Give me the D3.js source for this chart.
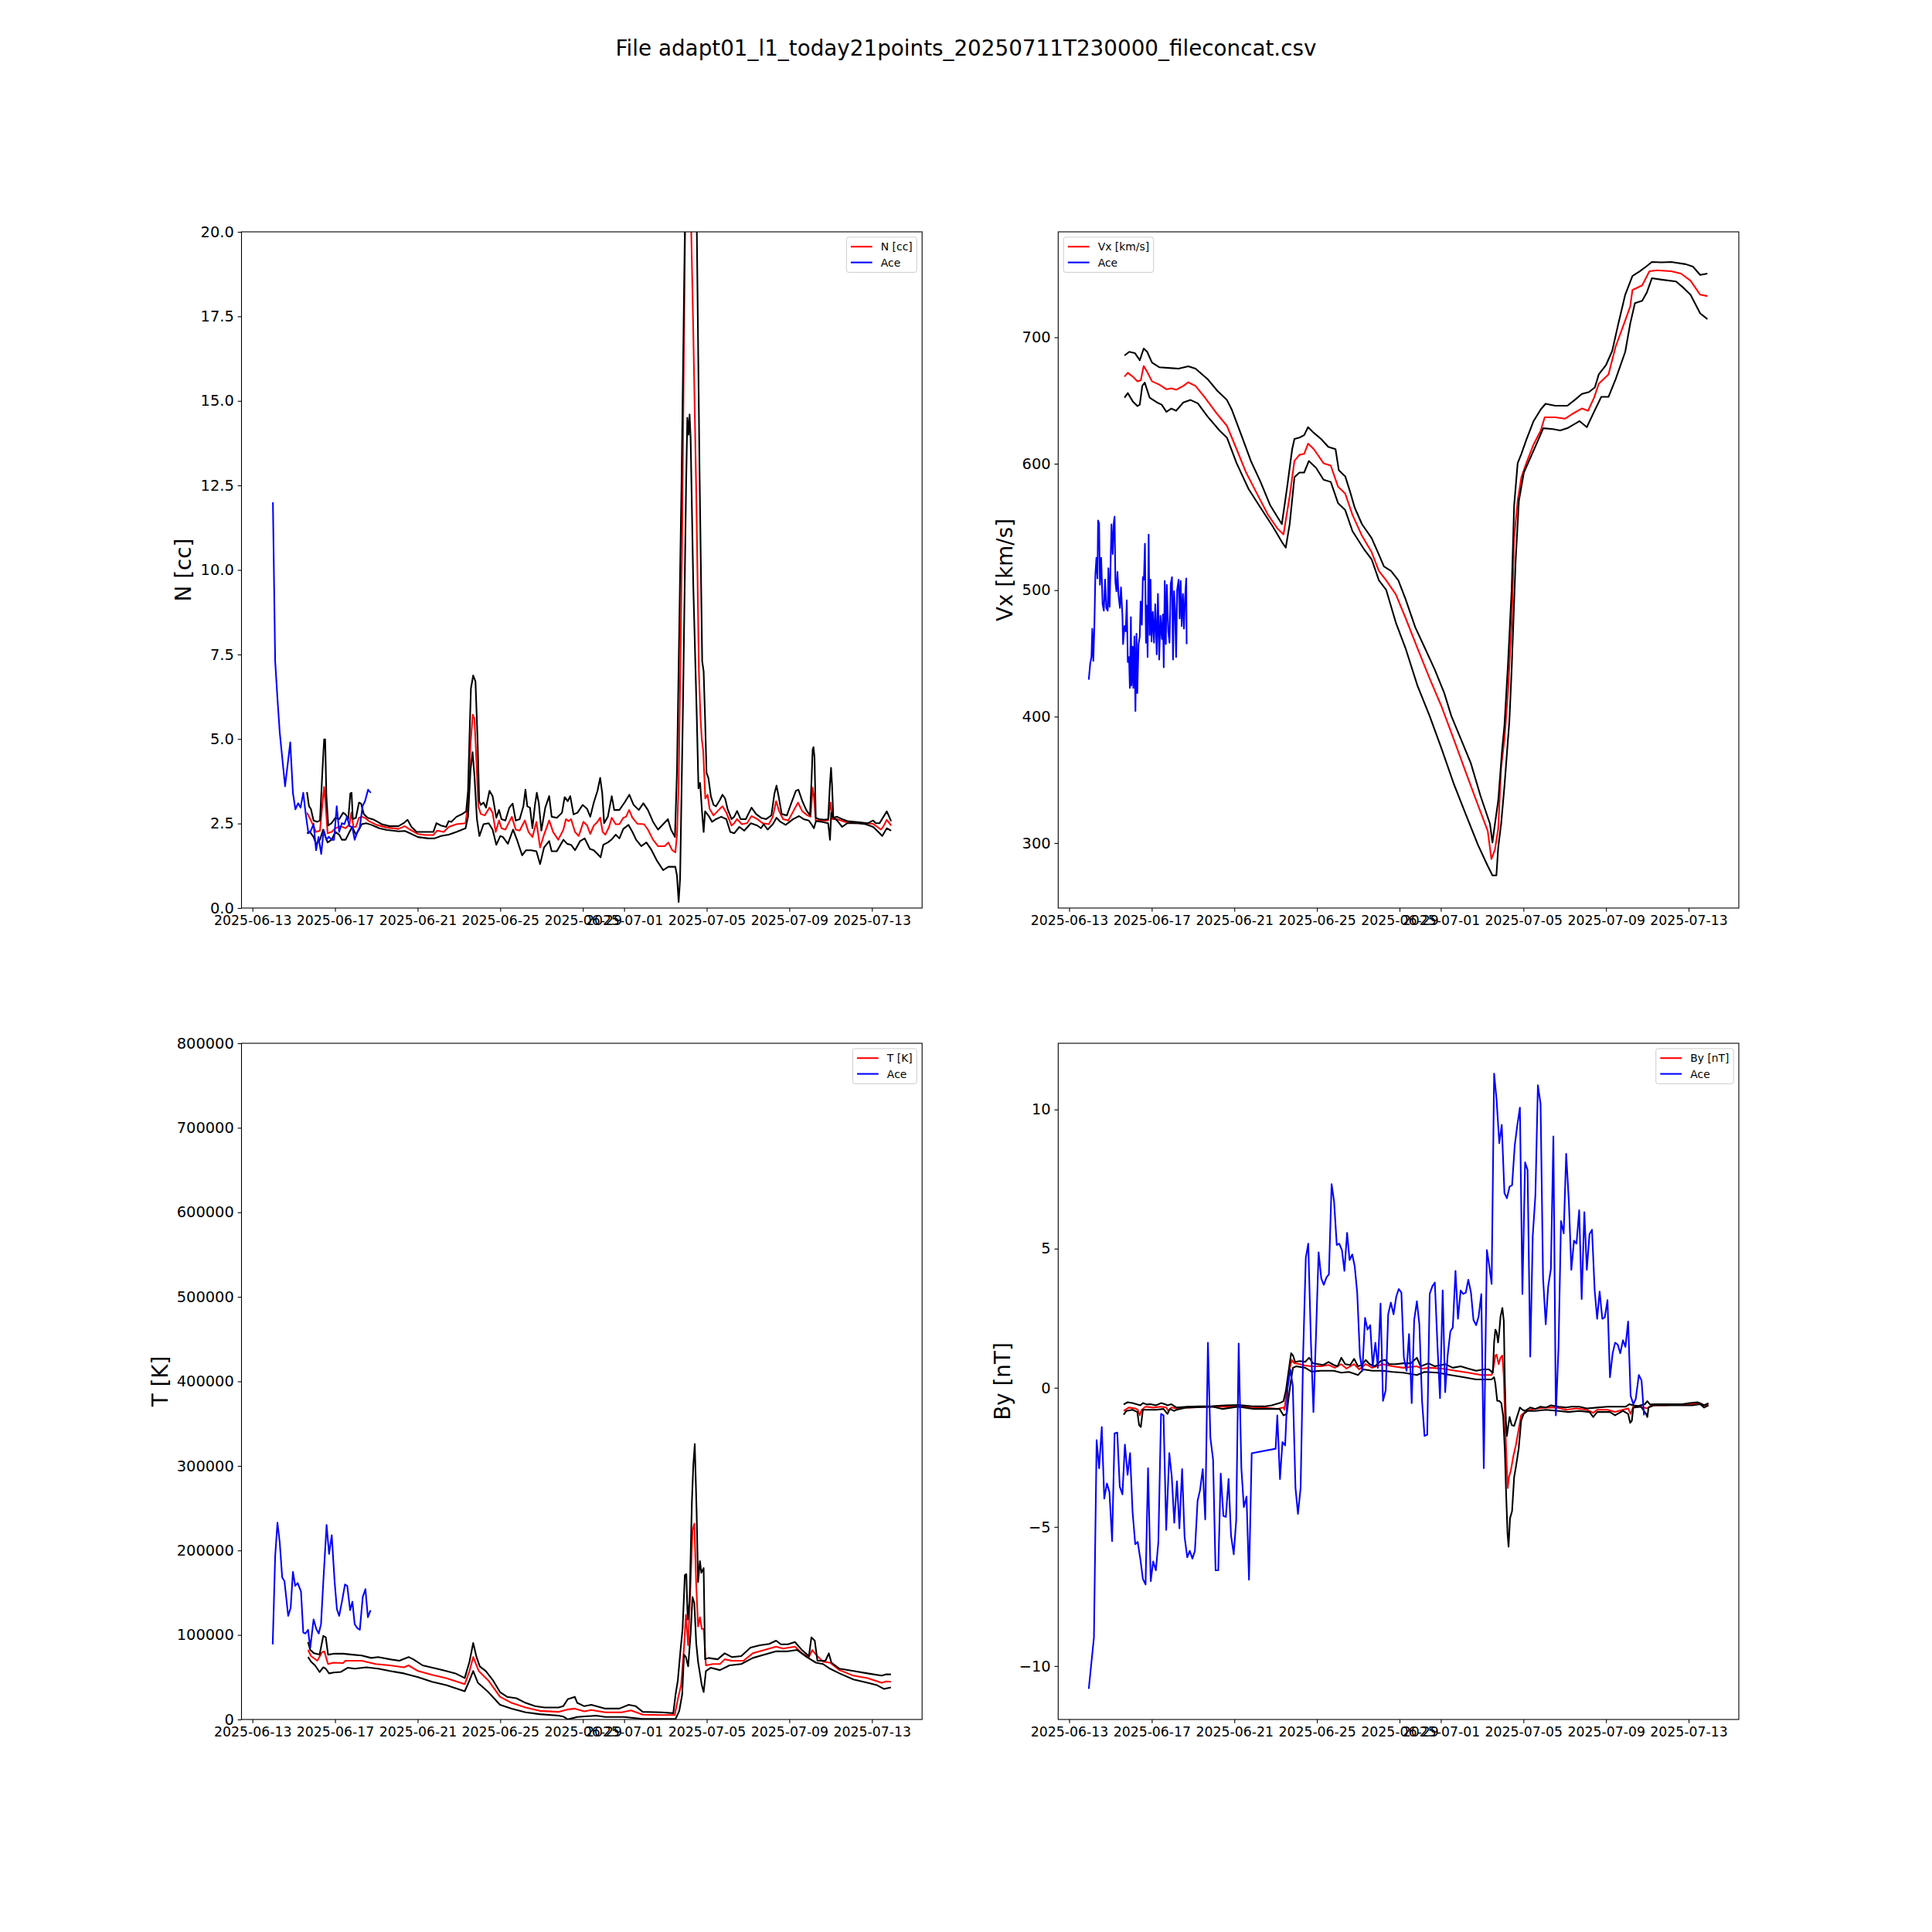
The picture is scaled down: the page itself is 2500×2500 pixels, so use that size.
<!DOCTYPE html>
<html>
<head>
  <meta charset="utf-8">
  <title>adapt01 l1 today21points</title>
  <script src="https://d3js.org/d3.v7.min.js"></script>
  <style>
    body { margin: 0; background: #fff; }
    text { font-family: "DejaVu Sans", sans-serif; fill: #000; }
    .frame { fill: none; stroke: #000; stroke-width: 1.1px; }
    .axis line { stroke: #000; stroke-width: 1.1px; }
    .series { fill: none; stroke-width: 2.08px; stroke-linejoin: round; }
  </style>
</head>
<body>
  <div id="chart"></div>
  <script>
    // ---- chart text and ticks ----
    const titleText = "File adapt01_l1_today21points_20250711T230000_fileconcat.csv";
    const xTickDates = ["2025-06-13", "2025-06-17", "2025-06-21", "2025-06-25", "2025-06-29",
                        "2025-07-01", "2025-07-05", "2025-07-09", "2025-07-13"];
    const nTicks = [0, 2.5, 5, 7.5, 10, 12.5, 15, 17.5, 20];
    const vxTicks = [300, 400, 500, 600, 700];
    const tTicks = [0, 100000, 200000, 300000, 400000, 500000, 600000, 700000, 800000];
    const byTicks = [-10, -5, 0, 5, 10];

    // ---- series: [days after 2025-06-13 00:00 UTC, value] ----
    const nAce = [[0.99,12.0],[1.10,7.3],[1.21,6.2],[1.32,5.2],[1.49,4.15],[1.58,3.6],[1.83,4.9],[1.96,3.4],
      [2.08,2.92],[2.21,3.10],[2.33,2.97],[2.46,3.41],[2.58,2.78],[2.71,2.21],[2.83,2.29],[2.96,2.49],[3.08,1.71],
      [3.20,2.10],[3.33,1.60],[3.45,2.31],[3.58,2.02],[3.70,2.11],[3.83,2.02],[3.95,2.02],[4.08,3.01],[4.20,2.25],
      [4.33,2.51],[4.45,2.48],[4.58,2.70],[4.70,2.42],[4.83,2.40],[4.95,2.02],[5.08,2.25],[5.20,2.40],[5.33,3.01],
      [5.45,3.16],[5.60,3.50],[5.73,3.41]];
    const nMid = [[2.64,2.82],[2.77,2.67],[2.89,2.51],[3.08,2.25],[3.27,2.29],[3.39,3.09],[3.47,3.58],[3.54,3.09],
      [3.64,2.21],[3.83,2.25],[4.02,2.36],[4.27,2.42],[4.51,2.36],[4.70,2.48],[4.79,2.82],[4.89,2.40],[5.01,2.40],
      [5.16,2.67],[5.29,2.70],[5.45,2.67],[5.64,2.57],[6.01,2.46],[6.51,2.38],[7.07,2.34],[7.38,2.42],[7.63,2.32],
      [8.01,2.19],[8.38,2.16],[8.76,2.16],[8.94,2.29],[9.26,2.25],[9.51,2.40],[9.88,2.48],[10.32,2.51],[10.44,3.09],
      [10.56,4.84],[10.67,5.72],[10.75,5.6],[10.81,4.84],[10.94,3.01],[11.06,2.78],[11.25,2.74],[11.48,2.97],
      [11.63,2.82],[11.78,2.25],[11.94,2.59],[12.06,2.36],[12.25,2.32],[12.56,2.70],[12.75,2.32],[12.94,2.29],
      [13.19,2.59],[13.37,2.25],[13.56,2.10],[13.75,2.55],[13.93,1.79],[14.12,2.17],[14.37,2.59],[14.56,2.25],
      [14.81,2.02],[15.06,2.32],[15.18,2.63],[15.31,2.57],[15.43,2.63],[15.62,2.25],[15.80,2.13],[16.03,2.55],
      [16.21,2.44],[16.36,2.19],[16.53,2.44],[16.71,2.55],[16.84,2.67],[16.96,2.25],[17.09,2.17],[17.27,2.40],
      [17.40,2.67],[17.59,2.48],[17.77,2.48],[17.96,2.67],[18.09,2.70],[18.24,2.90],[18.40,2.67],[18.65,2.49],
      [18.96,2.48],[19.15,2.32],[19.40,2.02],[19.64,1.83],[19.96,1.83],[20.14,1.94],[20.33,1.71],[20.48,1.65],
      [20.56,2.17],[20.64,3.70],[20.80,10.5],[20.95,20],[21.10,23],[21.25,20],[21.35,17],[21.50,12],[21.62,7],
      [21.70,5.6],[21.76,5.0],[21.83,4.65],[21.93,3.24],[22.04,3.35],[22.14,2.93],[22.33,2.74],[22.58,2.90],
      [22.76,3.01],[22.95,2.82],[23.20,2.44],[23.33,2.51],[23.47,2.63],[23.70,2.48],[23.95,2.51],[24.17,2.72],
      [24.45,2.63],[24.70,2.51],[25.01,2.48],[25.20,2.70],[25.36,3.16],[25.51,2.86],[25.70,2.63],[25.95,2.59],
      [26.19,2.86],[26.42,3.12],[26.63,2.86],[26.88,2.74],[27.03,2.70],[27.13,3.56],[27.19,3.31],[27.28,2.59],
      [27.57,2.59],[27.88,2.59],[28.00,3.12],[28.09,2.63],[28.31,2.63],[28.69,2.55],[29.19,2.51],[29.69,2.51],
      [30.06,2.49],[30.44,2.32],[30.56,2.42],[30.72,2.61],[30.93,2.44]];
    const nHigh = [[2.64,3.43],[2.74,3.01],[2.83,2.93],[2.96,2.59],[3.14,2.55],[3.27,2.59],[3.39,4.08],[3.47,4.99],
      [3.52,4.99],[3.58,3.31],[3.67,2.44],[3.83,2.51],[4.02,2.67],[4.20,2.63],[4.39,2.82],[4.51,2.77],[4.64,2.63],
      [4.74,3.39],[4.80,3.41],[4.86,2.63],[5.01,2.67],[5.16,3.12],[5.26,3.09],[5.39,2.78],[5.58,2.67],[5.89,2.61],
      [6.26,2.48],[6.64,2.42],[7.07,2.42],[7.32,2.51],[7.51,2.61],[7.70,2.40],[7.95,2.25],[8.26,2.25],[8.76,2.25],
      [8.91,2.51],[9.13,2.44],[9.38,2.40],[9.50,2.57],[9.63,2.55],[9.88,2.70],[10.13,2.77],[10.35,2.86],[10.44,3.47],
      [10.50,4.84],[10.58,6.5],[10.69,6.88],[10.80,6.7],[10.90,5.0],[10.98,3.16],[11.06,3.05],[11.19,3.12],
      [11.31,2.97],[11.48,3.47],[11.63,3.31],[11.81,2.67],[11.94,2.90],[12.06,2.63],[12.25,2.59],[12.44,2.97],
      [12.60,3.09],[12.75,2.59],[12.94,2.63],[13.12,3.01],[13.22,3.50],[13.31,3.01],[13.44,2.97],[13.56,2.36],
      [13.68,3.05],[13.77,3.41],[13.87,3.09],[13.99,2.29],[14.18,2.97],[14.37,3.31],[14.49,2.70],[14.74,2.67],
      [14.99,2.82],[15.12,3.28],[15.27,3.16],[15.39,3.31],[15.55,2.77],[15.74,2.82],[15.99,3.05],[16.21,2.93],
      [16.36,2.70],[16.53,3.12],[16.71,3.47],[16.84,3.85],[16.94,3.39],[17.03,2.51],[17.21,2.70],[17.40,3.31],
      [17.52,2.90],[17.77,2.90],[18.02,3.12],[18.25,3.35],[18.46,3.05],[18.71,2.90],[18.93,3.10],[19.15,2.90],
      [19.40,2.55],[19.64,2.32],[19.89,2.48],[20.12,2.63],[20.27,2.32],[20.46,2.10],[20.56,4.08],[20.78,12.6],
      [20.95,20.5],[21.10,25],[21.30,27],[21.45,23],[21.52,20],[21.65,13],[21.78,7.3],[21.85,7.0],[21.92,5.6],
      [21.99,4.0],[22.08,3.85],[22.20,3.31],[22.33,3.05],[22.45,3.01],[22.64,3.20],[22.76,3.35],[22.89,3.24],
      [23.01,2.93],[23.20,2.63],[23.33,2.70],[23.47,2.87],[23.64,2.63],[23.89,2.63],[24.17,2.97],[24.39,2.78],
      [24.63,2.67],[24.88,2.63],[25.13,2.74],[25.28,3.39],[25.38,3.62],[25.48,3.31],[25.63,2.78],[25.88,2.74],
      [26.13,3.16],[26.32,3.47],[26.44,3.50],[26.63,3.16],[26.82,2.90],[27.00,2.74],[27.07,3.70],[27.13,4.69],
      [27.17,4.76],[27.22,4.46],[27.28,2.67],[27.44,2.63],[27.69,2.61],[27.88,2.63],[27.97,3.70],[28.02,4.15],
      [28.07,3.62],[28.13,2.67],[28.31,2.70],[28.56,2.63],[28.81,2.57],[29.31,2.54],[29.81,2.51],[30.06,2.59],
      [30.19,2.51],[30.37,2.51],[30.56,2.70],[30.72,2.86],[30.93,2.57]];
    const nLow = [[2.64,2.21],[2.79,2.25],[2.96,2.10],[3.08,1.90],[3.27,2.02],[3.42,2.32],[3.52,2.13],[3.64,1.94],
      [3.83,2.02],[4.02,2.25],[4.20,2.17],[4.33,2.02],[4.51,2.02],[4.70,2.25],[4.83,2.40],[5.01,2.17],[5.16,2.32],
      [5.29,2.48],[5.51,2.51],[5.76,2.46],[6.14,2.36],[6.51,2.31],[7.07,2.27],[7.38,2.28],[7.63,2.21],[8.01,2.10],
      [8.51,2.06],[8.82,2.06],[9.13,2.13],[9.51,2.17],[9.88,2.25],[10.32,2.36],[10.44,2.70],[10.56,4.08],[10.66,4.61],
      [10.75,3.92],[10.87,2.63],[10.99,2.13],[11.19,2.48],[11.44,2.51],[11.63,2.32],[11.81,1.87],[12.00,2.13],
      [12.13,2.10],[12.37,1.90],[12.62,2.32],[12.81,2.02],[13.06,1.56],[13.25,1.71],[13.50,1.71],[13.75,1.68],
      [13.93,1.30],[14.12,1.79],[14.37,1.98],[14.49,1.68],[14.74,1.68],[15.06,2.02],[15.24,1.90],[15.43,1.87],
      [15.62,1.71],[15.87,1.98],[16.09,2.06],[16.34,1.75],[16.53,1.71],[16.71,1.60],[16.86,1.50],[16.99,1.87],
      [17.21,1.94],[17.40,2.03],[17.59,2.17],[17.77,2.06],[17.96,2.34],[18.21,2.46],[18.40,2.25],[18.58,2.02],
      [18.83,1.83],[19.08,1.94],[19.33,1.71],[19.58,1.41],[19.89,1.12],[20.14,1.22],[20.48,1.22],[20.56,0.95],
      [20.64,0.18],[20.71,0.88],[20.85,6.0],[21.00,12.5],[21.06,14.5],[21.12,14.0],[21.17,14.6],[21.22,13.9],
      [21.35,9.5],[21.52,5.6],[21.60,3.54],[21.68,3.70],[21.77,2.86],[21.85,2.25],[21.92,2.86],[22.08,2.74],
      [22.26,2.55],[22.45,2.63],[22.70,2.70],[22.95,2.63],[23.14,2.25],[23.33,2.21],[23.58,2.40],[23.82,2.29],
      [24.14,2.51],[24.45,2.44],[24.63,2.36],[24.76,2.48],[24.95,2.32],[25.20,2.48],[25.38,2.67],[25.57,2.55],
      [25.82,2.46],[26.19,2.63],[26.47,2.72],[26.69,2.63],[26.94,2.59],[27.07,2.48],[27.19,2.36],[27.29,2.57],
      [27.57,2.55],[27.88,2.51],[27.97,2.02],[28.03,2.82],[28.13,2.67],[28.31,2.59],[28.56,2.40],[28.81,2.51],
      [29.31,2.51],[29.69,2.48],[30.06,2.40],[30.31,2.25],[30.50,2.13],[30.72,2.36],[30.93,2.29]];

    const vxAce = [[0.95,429.2],[1.02,442.1],[1.08,447.1],[1.12,469.6],[1.17,444.1],[1.22,470.6],[1.27,512.4],
      [1.32,525.6],[1.37,509.3],[1.40,555.1],[1.45,553.1],[1.49,504.2],[1.55,525.6],[1.62,488.9],[1.68,483.8],
      [1.74,508.3],[1.80,485.9],[1.87,483.8],[1.90,517.4],[1.96,486.9],[2.01,523.6],[2.05,552.1],[2.11,528.6],
      [2.16,553.1],[2.20,558.2],[2.24,506.2],[2.29,499.1],[2.34,514.4],[2.39,496.0],[2.46,485.9],[2.51,502.2],
      [2.58,479.8],[2.61,457.3],[2.68,471.6],[2.74,467.5],[2.79,492.0],[2.84,443.1],[2.90,447.1],[2.94,422.7],
      [2.99,478.7],[3.02,424.7],[3.07,455.3],[3.11,422.7],[3.16,463.4],[3.21,404.4],[3.26,465.5],[3.30,418.6],
      [3.36,457.3],[3.42,463.4],[3.46,491.0],[3.52,472.6],[3.57,510.3],[3.62,508.3],[3.67,536.8],[3.72,458.4],
      [3.76,487.9],[3.80,447.1],[3.85,543.9],[3.90,464.5],[3.94,508.3],[3.99,459.4],[4.05,482.8],[4.11,458.4],
      [4.17,488.9],[4.24,449.2],[4.30,497.1],[4.36,445.1],[4.42,479.8],[4.49,461.4],[4.54,480.8],[4.58,439.0],
      [4.63,507.3],[4.68,457.3],[4.73,504.2],[4.80,467.5],[4.86,458.4],[4.92,505.2],[4.98,510.3],[5.03,445.1],
      [5.08,499.1],[5.13,483.8],[5.18,447.1],[5.23,500.1],[5.30,508.3],[5.35,477.7],[5.40,507.3],[5.45,471.6],
      [5.51,497.1],[5.56,469.6],[5.61,493.0],[5.67,509.3],[5.69,457.3]];
    const vxMid = [[2.68,668.9],[2.84,671.9],[3.08,668.9],[3.31,665.2],[3.47,666.0],[3.61,677.4],[3.78,672.6],
      [4.01,665.2],[4.36,662.6],[4.71,658.9],[4.95,659.6],[5.18,658.5],[5.53,661.5],[5.77,664.4],[6.12,661.5],
      [6.58,652.2],[7.17,639.3],[7.64,630.0],[8.11,611.5],[8.57,593.0],[9.04,578.1],[9.63,559.6],[10.10,548.5],
      [10.38,544.1],[10.68,574.4],[10.91,602.2],[11.15,607.0],[11.38,607.8],[11.57,615.9],[11.85,611.5],
      [12.32,600.4],[12.67,598.5],[13.02,581.9],[13.37,576.3],[13.72,559.6],[14.18,543.0],[14.65,530.0],
      [15.00,515.2],[15.35,507.8],[15.82,496.7],[16.29,478.1],[16.87,454.1],[17.46,430.0],[18.04,407.8],
      [18.63,381.9],[19.21,355.9],[19.80,330.0],[20.27,309.6],[20.45,287.4],[20.62,294.8],[20.78,311.5],
      [20.92,359.6],[21.08,381.9],[21.25,418.9],[21.43,474.4],[21.55,541.1],[21.72,570.7],[21.90,589.3],
      [22.14,600.4],[22.49,615.2],[22.84,626.3],[23.03,636.7],[23.54,636.7],[24.01,635.6],[24.36,639.3],
      [24.83,643.7],[25.13,641.9],[25.42,652.2],[25.65,663.3],[26.12,670.7],[26.47,692.9],[26.93,713.3],
      [27.17,724.4],[27.28,737.4],[27.75,741.1],[28.10,752.2],[28.46,753.0],[29.16,752.2],[29.63,750.4],
      [30.09,744.8],[30.56,733.7],[30.91,732.6]];
    const vxHigh = [[2.68,685.6],[2.91,688.5],[3.19,687.4],[3.42,681.9],[3.61,691.1],[3.78,688.5],[4.01,680.0],
      [4.36,676.3],[4.95,675.6],[5.30,675.2],[5.77,677.0],[6.12,675.2],[6.70,667.0],[7.17,657.8],[7.64,650.4],
      [7.87,643.0],[8.34,622.6],[8.80,602.2],[9.27,585.6],[9.74,567.0],[10.30,552.2],[10.56,581.9],[10.80,611.5],
      [10.91,619.6],[11.15,620.7],[11.38,622.6],[11.57,628.9],[11.85,624.4],[12.20,619.6],[12.55,613.3],
      [12.90,611.5],[13.06,594.8],[13.37,590.0],[13.60,578.1],[13.83,565.2],[14.18,552.2],[14.65,541.1],
      [15.00,528.1],[15.24,518.9],[15.59,515.2],[15.94,507.8],[16.29,493.0],[16.76,470.7],[17.23,454.1],
      [17.70,437.4],[18.16,418.9],[18.51,400.4],[18.98,381.9],[19.45,363.3],[19.92,337.4],[20.38,315.2],
      [20.50,300.4],[20.62,315.2],[20.78,333.7],[20.97,374.4],[21.08,393.0],[21.25,441.1],[21.43,500.4],
      [21.55,567.0],[21.72,600.4],[21.90,607.8],[22.14,618.9],[22.49,633.7],[22.84,643.0],[23.07,647.4],
      [23.54,645.9],[24.13,645.9],[24.48,650.4],[24.83,655.2],[25.18,656.7],[25.46,660.4],[25.65,670.7],
      [26.00,678.1],[26.30,689.3],[26.58,709.6],[26.93,733.7],[27.28,748.5],[27.63,752.2],[27.94,755.9],
      [28.22,759.6],[28.69,759.3],[29.16,759.6],[29.86,757.8],[30.21,755.9],[30.56,749.3],[30.91,750.4]];
    const vxLow = [[2.68,652.2],[2.84,655.9],[3.08,649.3],[3.31,645.6],[3.42,646.7],[3.54,661.5],[3.66,664.1],
      [3.90,652.2],[4.25,648.5],[4.48,646.7],[4.71,641.1],[4.95,643.7],[5.18,641.9],[5.53,648.5],[5.88,650.4],
      [6.23,647.8],[6.70,637.4],[7.28,626.3],[7.64,620.7],[8.11,600.4],[8.69,580.0],[9.27,565.2],[9.86,550.4],
      [10.33,537.4],[10.49,533.7],[10.68,552.2],[10.91,589.3],[11.15,593.0],[11.38,593.0],[11.61,602.2],
      [11.96,596.7],[12.32,587.4],[12.67,585.6],[13.02,568.9],[13.37,563.3],[13.72,546.7],[14.30,531.9],
      [14.65,524.4],[15.00,507.8],[15.35,500.4],[15.82,474.4],[16.29,454.1],[16.87,424.4],[17.46,400.4],
      [18.04,374.4],[18.63,346.7],[19.21,322.6],[19.80,298.5],[20.27,281.9],[20.50,274.4],[20.69,274.4],
      [20.78,296.7],[20.92,315.2],[21.08,344.8],[21.32,396.7],[21.43,437.4],[21.62,522.6],[21.78,570.7],
      [22.02,593.0],[22.37,605.9],[22.72,618.9],[22.96,628.1],[23.43,627.4],[23.78,626.3],[24.13,628.1],
      [24.72,633.7],[25.07,628.9],[25.42,641.1],[25.77,652.9],[26.12,652.9],[26.47,667.0],[26.93,688.5],
      [27.17,710.7],[27.40,727.0],[27.75,728.9],[27.98,735.6],[28.22,746.7],[28.69,745.6],[29.39,744.1],
      [29.74,739.3],[30.09,733.7],[30.56,718.9],[30.91,714.4]];

    const tAce = [[0.98,88800],[1.10,192900],[1.21,232800],[1.32,209600],[1.44,168000],[1.55,163600],[1.73,122600],
      [1.85,132100],[1.96,174700],[2.07,158100],[2.19,161400],[2.35,151500],[2.46,102800],[2.57,101700],
      [2.69,106100],[2.80,85000],[2.96,118300],[3.09,107200],[3.21,101700],[3.32,112800],[3.43,162500],
      [3.59,230200],[3.71,195900],[3.84,218000],[3.98,162500],[4.09,130400],[4.20,122600],[4.34,140400],
      [4.48,159700],[4.59,158100],[4.73,129300],[4.84,139300],[4.95,112800],[5.07,108300],[5.20,106100],
      [5.34,144800],[5.47,154200],[5.59,121000],[5.72,129300]];
    const tMid = [[2.69,82200],[2.84,75000],[3.14,69500],[3.37,79500],[3.48,80600],[3.66,65600],[3.93,67200],
      [4.39,66700],[4.50,69500],[5.29,69500],[5.97,65600],[6.66,64000],[7.34,61700],[7.56,64000],[8.02,57300],
      [8.70,52900],[9.38,49000],[10.28,41800],[10.51,57300],[10.69,73900],[10.96,57300],[11.42,46200],
      [11.99,26800],[12.55,19600],[13.23,14100],[13.91,10200],[14.82,9000],[15.27,11800],[15.61,12900],
      [16.07,9600],[16.41,11200],[17.09,8500],[17.88,8500],[18.33,10700],[18.90,5700],[19.81,5200],[20.45,5200],
      [20.60,24000],[20.76,40600],[20.90,85000],[20.99,123800],[21.10,87800],[21.22,162500],[21.31,223500],
      [21.40,231800],[21.49,159700],[21.58,109900],[21.67,121000],[21.76,107200],[21.85,107200],[21.96,64000],
      [22.30,65600],[22.64,65600],[22.87,71200],[23.21,69500],[23.78,69500],[24.23,78300],[24.80,82200],
      [25.36,86100],[25.70,83900],[26.27,86100],[26.61,78300],[26.95,73900],[27.11,82200],[27.29,76700],
      [27.63,68300],[27.97,67200],[28.43,58400],[29.11,51800],[29.79,49000],[30.47,43400],[30.70,45100],
      [30.92,44500]];
    const tHigh = [[2.69,91600],[2.80,82200],[2.98,78300],[3.25,76700],[3.43,98900],[3.55,97200],[3.66,76700],
      [3.93,77800],[4.39,77800],[4.84,76700],[5.29,75600],[5.75,72800],[6.09,73900],[6.66,71200],[7.11,69500],
      [7.56,73900],[7.79,71200],[8.24,64000],[8.92,60100],[9.38,57300],[9.83,54500],[10.28,49000],[10.51,68300],
      [10.69,90500],[10.85,73900],[11.01,62800],[11.30,57300],[11.65,46200],[11.99,32400],[12.33,26800],
      [12.78,25100],[13.23,19600],[13.69,15700],[14.14,14100],[14.82,14100],[15.05,15700],[15.27,24000],
      [15.61,26800],[15.73,19600],[16.07,15700],[16.41,17400],[17.09,12900],[17.77,12900],[18.22,17400],
      [18.56,15700],[18.90,9000],[19.81,8500],[20.38,7400],[20.49,29500],[20.60,46200],[20.72,79500],
      [20.83,107200],[20.94,170900],[21.01,172000],[21.08,118300],[21.17,140400],[21.28,256600],[21.35,300900],
      [21.42,325900],[21.51,245500],[21.58,162500],[21.67,187400],[21.74,173600],[21.85,179100],[21.92,71200],
      [22.08,72800],[22.53,71200],[22.87,78300],[23.21,73900],[23.67,75000],[24.12,85000],[24.57,87800],
      [25.02,89400],[25.36,93300],[25.59,88900],[25.93,88900],[26.27,91600],[26.61,82200],[26.95,75000],
      [27.07,97200],[27.23,93300],[27.36,69500],[27.75,69500],[27.91,78300],[28.04,67200],[28.43,60100],
      [29.11,57300],[29.79,54500],[30.47,51800],[30.70,53400],[30.92,53400]];
    const tLow = [[2.69,73900],[2.84,68300],[3.03,64000],[3.25,56200],[3.43,61700],[3.55,60100],[3.71,54500],
      [3.93,55600],[4.27,56200],[4.61,61200],[4.95,60100],[5.52,61700],[6.09,60100],[6.66,57300],[7.34,54500],
      [8.02,50100],[8.70,44500],[9.38,40600],[10.28,33400],[10.51,46200],[10.69,57300],[10.92,43400],
      [11.42,32400],[11.99,17400],[12.55,12900],[13.23,8500],[13.91,6300],[14.82,4600],[15.05,3500],[15.27,200],
      [15.73,2900],[16.64,4600],[17.09,2900],[17.99,2900],[18.90,700],[19.81,700],[20.49,700],[20.67,10200],
      [20.81,29500],[20.90,76700],[20.99,73900],[21.10,62800],[21.22,101700],[21.31,144800],[21.40,137600],
      [21.49,90500],[21.58,68300],[21.67,54500],[21.76,40600],[21.85,32400],[21.96,57300],[22.19,61200],
      [22.64,58400],[23.10,64000],[23.67,65600],[24.23,72800],[24.80,76700],[25.36,80600],[25.93,80600],
      [26.38,82200],[26.84,73900],[27.29,67200],[27.63,65600],[27.97,60100],[28.43,54500],[29.11,47300],
      [29.79,43400],[30.24,40600],[30.58,36200],[30.92,37900]];

    const byAce = [[0.95,-10.82],[1.20,-8.97],[1.33,-1.88],[1.45,-2.89],[1.58,-1.41],[1.70,-3.98],[1.83,-3.44],
      [1.95,-3.75],[2.08,-5.51],[2.20,-1.64],[2.33,-1.61],[2.45,-3.55],[2.58,-3.83],[2.70,-2.04],[2.83,-3.13],
      [2.95,-2.35],[3.07,-4.45],[3.20,-5.62],[3.32,-5.54],[3.45,-6.17],[3.57,-6.87],[3.70,-7.07],[3.82,-2.89],
      [3.95,-6.95],[4.07,-6.24],[4.20,-6.56],[4.32,-5.54],[4.45,-0.94],[4.57,-0.99],[4.70,-5.11],[4.85,-2.35],
      [4.97,-3.20],[5.09,-4.85],[5.22,-3.36],[5.34,-5.05],[5.47,-2.92],[5.59,-5.36],[5.72,-6.09],[5.84,-5.86],
      [5.97,-6.14],[6.09,-5.86],[6.22,-4.06],[6.34,-3.67],[6.47,-2.92],[6.59,-4.73],[6.72,1.62],[6.84,-1.80],
      [6.97,-2.58],[7.09,-6.56],[7.22,-6.56],[7.34,-3.08],[7.47,-4.61],[7.59,-4.64],[7.72,-3.28],[7.84,-5.31],
      [7.97,-5.98],[8.09,-4.76],[8.21,1.59],[8.34,-2.89],[8.46,-4.29],[8.59,-3.91],[8.71,-6.90],[8.84,-2.35],
      [10.00,-2.19],[10.08,-0.99],[10.21,-3.28],[10.33,-1.95],[10.46,-2.07],[10.58,-0.01],[10.71,0.66],
      [10.83,0.07],[10.96,-3.59],[11.08,-4.53],[11.21,-3.59],[11.33,1.16],[11.46,4.67],[11.58,5.18],[11.71,1.62],
      [11.83,-0.87],[11.96,2.02],[12.08,4.87],[12.21,3.93],[12.33,3.70],[12.46,3.96],[12.58,4.08],[12.71,7.32],
      [12.83,6.69],[12.96,5.13],[13.08,5.18],[13.21,4.95],[13.33,4.20],[13.46,5.57],[13.58,4.59],[13.71,4.79],
      [13.83,4.36],[13.95,3.42],[14.08,1.16],[14.20,0.61],[14.33,2.51],[14.45,2.09],[14.58,2.25],[14.70,0.77],
      [14.83,1.62],[14.95,0.72],[15.08,3.03],[15.20,-0.47],[15.33,-0.09],[15.45,2.64],[15.58,3.06],[15.71,2.64],
      [15.84,3.27],[15.96,3.55],[16.09,3.42],[16.21,1.08],[16.34,0.61],[16.46,1.93],[16.59,-0.55],[16.71,2.44],
      [16.84,3.11],[16.96,2.28],[17.09,-0.47],[17.21,-1.73],[17.34,-1.69],[17.46,3.37],[17.59,3.65],[17.71,3.78],
      [17.84,1.47],[17.96,-0.37],[18.09,3.50],[18.21,-0.16],[18.33,1.16],[18.46,2.02],[18.58,2.17],[18.71,4.20],
      [18.83,2.48],[18.96,3.50],[19.08,3.37],[19.21,3.42],[19.33,3.88],[19.46,3.42],[19.58,2.44],[19.71,2.25],
      [19.83,2.56],[19.96,3.37],[20.08,-2.89],[20.23,4.95],[20.35,4.36],[20.46,3.73],[20.58,11.29],[20.70,10.35],
      [20.83,8.79],[20.95,9.45],[21.08,7.00],[21.20,6.81],[21.33,7.23],[21.45,7.28],[21.58,8.71],[21.70,9.42],
      [21.83,10.07],[21.95,3.37],[22.08,8.10],[22.20,7.83],[22.33,1.12],[22.45,5.44],[22.58,6.93],[22.70,10.87],
      [22.83,10.20],[22.95,3.96],[23.08,2.28],[23.20,3.65],[23.33,4.27],[23.45,9.03],[23.57,-0.99],[23.70,1.47],
      [23.82,5.99],[23.95,5.55],[24.07,8.41],[24.20,6.69],[24.32,4.24],[24.45,5.29],[24.57,5.18],[24.70,6.38],
      [24.82,3.19],[24.95,6.31],[25.07,4.24],[25.20,5.52],[25.32,5.68],[25.45,3.50],[25.57,2.48],[25.69,3.46],
      [25.82,2.48],[25.94,2.53],[26.07,3.15],[26.19,0.38],[26.32,1.24],[26.44,1.62],[26.57,1.55],[26.69,1.24],
      [26.82,1.71],[26.94,1.47],[27.07,2.38],[27.19,-0.28],[27.32,-0.59],[27.44,-0.40],[27.59,0.46],[27.72,0.26],
      [27.84,-0.99]];
    const byMid = [[2.64,-0.83],[2.89,-0.71],[3.20,-0.74],[3.32,-0.79],[3.42,-0.99],[3.51,-0.79],[3.70,-0.68],
      [4.07,-0.71],[4.45,-0.68],[4.70,-0.71],[4.80,-0.83],[4.95,-0.71],[5.20,-0.74],[5.70,-0.71],[6.94,-0.68],
      [8.19,-0.67],[9.44,-0.71],[10.06,-0.76],[10.38,-0.71],[10.43,-0.79],[10.56,0.07],[10.68,0.69],[10.78,1.00],
      [10.91,0.88],[11.18,0.85],[11.43,0.80],[11.74,0.77],[11.93,0.77],[12.18,0.77],[12.56,0.82],[12.87,0.72],
      [13.18,0.85],[13.43,0.69],[13.80,0.85],[14.05,0.66],[14.36,0.85],[14.68,0.72],[15.18,0.85],[15.67,0.77],
      [16.18,0.72],[16.84,0.77],[17.09,0.69],[17.46,0.72],[18.09,0.69],[18.71,0.61],[19.33,0.54],[19.96,0.46],
      [20.46,0.46],[20.56,0.77],[20.64,1.16],[20.70,1.19],[20.80,0.85],[20.89,1.08],[20.98,1.16],[21.05,0.38],
      [21.12,-1.34],[21.18,-2.58],[21.24,-3.60],[21.30,-3.21],[21.39,-2.97],[21.52,-2.43],[21.64,-2.04],
      [21.77,-1.49],[21.89,-0.99],[22.08,-0.87],[22.33,-0.79],[22.70,-0.74],[23.08,-0.71],[23.57,-0.71],
      [24.07,-0.79],[24.57,-0.74],[25.07,-0.79],[25.38,-0.90],[25.57,-0.79],[26.07,-0.79],[26.44,-0.87],
      [26.82,-0.79],[27.07,-0.74],[27.19,-0.94],[27.32,-0.68],[27.69,-0.68],[28.00,-0.74],[28.19,-0.63],
      [28.81,-0.63],[29.56,-0.60],[30.18,-0.59],[30.56,-0.55],[30.75,-0.63],[30.96,-0.60]];
    const byHigh = [[2.64,-0.60],[2.83,-0.52],[3.07,-0.55],[3.32,-0.60],[3.45,-0.63],[3.57,-0.55],[3.76,-0.60],
      [3.95,-0.59],[4.20,-0.63],[4.45,-0.55],[4.64,-0.59],[4.76,-0.63],[4.95,-0.59],[5.20,-0.71],[5.70,-0.68],
      [6.32,-0.67],[6.94,-0.66],[7.57,-0.63],[8.19,-0.62],[8.81,-0.66],[9.44,-0.67],[9.81,-0.63],[10.19,-0.55],
      [10.38,-0.48],[10.50,-0.09],[10.63,0.61],[10.75,1.24],[10.84,1.16],[10.94,0.93],[11.18,0.96],[11.43,0.93],
      [11.62,1.08],[11.81,0.88],[12.06,0.85],[12.31,0.82],[12.56,0.93],[12.81,0.82],[13.00,0.77],[13.18,1.08],
      [13.37,0.85],[13.61,0.82],[13.80,1.04],[13.99,0.77],[14.18,0.82],[14.36,1.00],[14.55,0.85],[14.80,0.77],
      [15.11,0.97],[15.30,1.00],[15.49,0.85],[15.80,0.85],[16.18,0.88],[16.55,0.88],[16.84,1.08],[17.02,0.77],
      [17.40,0.88],[17.71,0.77],[18.21,0.85],[18.58,0.72],[18.96,0.77],[19.33,0.69],[19.71,0.61],[20.08,0.66],
      [20.33,0.66],[20.52,0.54],[20.58,1.63],[20.64,2.09],[20.70,2.01],[20.77,1.63],[20.83,2.01],[20.89,2.56],
      [20.98,2.87],[21.05,2.40],[21.10,0.22],[21.15,-1.18],[21.20,-1.73],[21.27,-1.34],[21.33,-1.05],[21.43,-1.34],
      [21.55,-1.37],[21.70,-1.02],[21.83,-0.71],[21.95,-0.79],[22.08,-0.83],[22.33,-0.71],[22.58,-0.76],
      [22.83,-0.68],[23.08,-0.71],[23.33,-0.63],[23.70,-0.68],[24.07,-0.71],[24.32,-0.68],[24.70,-0.68],
      [25.07,-0.74],[25.57,-0.71],[26.07,-0.68],[26.57,-0.68],[26.94,-0.68],[27.13,-0.59],[27.32,-0.63],
      [27.57,-0.65],[27.88,-0.59],[28.00,-0.48],[28.13,-0.60],[28.44,-0.59],[29.06,-0.59],[29.69,-0.59],
      [30.06,-0.55],[30.43,-0.52],[30.75,-0.63],[30.96,-0.55]];
    const byLow = [[2.64,-0.97],[2.77,-0.83],[3.07,-0.79],[3.30,-0.87],[3.39,-1.34],[3.47,-1.41],[3.57,-0.79],
      [3.82,-0.79],[4.20,-0.79],[4.57,-0.76],[4.76,-0.94],[4.88,-0.76],[5.07,-0.83],[5.20,-0.79],[5.70,-0.71],
      [6.94,-0.68],[7.44,-0.76],[8.19,-0.68],[8.94,-0.76],[9.44,-0.76],[10.19,-0.76],[10.38,-0.99],[10.54,-0.94],
      [10.62,-0.40],[10.75,0.30],[10.84,0.72],[11.00,0.77],[11.43,0.72],[11.74,0.58],[12.18,0.61],[12.81,0.61],
      [13.18,0.54],[13.55,0.57],[13.99,0.46],[14.24,0.66],[14.68,0.61],[15.18,0.61],[15.67,0.57],[16.18,0.54],
      [16.84,0.46],[17.21,0.57],[17.84,0.54],[18.46,0.46],[19.08,0.38],[19.71,0.30],[20.46,0.30],[20.58,0.38],
      [20.64,0.15],[20.73,-0.47],[20.83,-0.47],[20.93,-0.55],[21.02,-1.02],[21.10,-2.27],[21.17,-3.98],
      [21.23,-5.23],[21.28,-5.71],[21.35,-4.69],[21.45,-4.43],[21.55,-3.21],[21.64,-2.82],[21.77,-2.19],
      [21.89,-1.18],[22.01,-0.94],[22.20,-0.83],[22.58,-0.83],[23.08,-0.79],[23.70,-0.83],[24.20,-0.87],
      [24.70,-0.83],[25.20,-0.87],[25.38,-1.05],[25.57,-0.87],[26.19,-0.87],[26.44,-0.99],[26.82,-0.83],
      [27.07,-0.94],[27.17,-1.26],[27.25,-1.18],[27.32,-0.71],[27.69,-0.68],[27.94,-0.94],[28.00,-1.05],
      [28.06,-0.71],[28.31,-0.63],[29.06,-0.63],[29.69,-0.63],[30.18,-0.63],[30.56,-0.59],[30.75,-0.71],
      [30.96,-0.63]];

    // ---- figure layout (matplotlib-like 2x2 grid on a 2500px canvas) ----
    const figW = 2500, figH = 2500;
    const axW = 880.7, axH = 875;
    const colLeft = [312.5, 1369.3];
    const rowTop = [300, 1350];
    const xDays = [-0.531, 32.43];       // visible time window, in days after 2025-06-13
    const base = Date.UTC(2025, 5, 13);
    const toDate = d => new Date(base + d * 864e5);

    const tickLen = 4.86, tickPad = 4.86;
    const xTickFont = 17.3, yTickFont = 19.4, labelFont = 27.8, legendFont = 13.9;

    const svg = d3.select("#chart")
      .append("svg")
        .attr("width", figW)
        .attr("height", figH)
        .style("background", "#fff");

    svg.append("text")
      .attr("x", figW / 2)
      .attr("y", 72)
      .attr("text-anchor", "middle")
      .style("font-size", labelFont + "px")
      .text(titleText);

    const xScale = d3.scaleUtc()
      .domain([toDate(xDays[0]), toDate(xDays[1])])
      .range([0, axW]);

    const panels = [
      { col: 0, row: 0, yDomain: [0, 20], ticks: nTicks, fmt: d3.format(".1f"), label: "N [cc]",
        legend: "N [cc]", legendLeft: false, mid: nMid, high: nHigh, low: nLow, ace: nAce },
      { col: 1, row: 0, yDomain: [248.6, 783.4], ticks: vxTicks, fmt: d3.format("d"), label: "Vx [km/s]",
        legend: "Vx [km/s]", legendLeft: true, mid: vxMid, high: vxHigh, low: vxLow, ace: vxAce },
      { col: 0, row: 1, yDomain: [0, 800000], ticks: tTicks, fmt: d3.format("d"), label: "T [K]",
        legend: "T [K]", legendLeft: false, mid: tMid, high: tHigh, low: tLow, ace: tAce },
      { col: 1, row: 1, yDomain: [-11.92, 12.38], ticks: byTicks, fmt: d3.format("d"), label: "By [nT]",
        legend: "By [nT]", legendLeft: false, mid: byMid, high: byHigh, low: byLow, ace: byAce }
    ];

    panels.forEach((p, i) => {
      const g = svg.append("g")
        .attr("transform", `translate(${colLeft[p.col]}, ${rowTop[p.row]})`);

      const yScale = d3.scaleLinear().domain(p.yDomain).range([axH, 0]);

      // clip the lines to the axes box, as matplotlib does
      g.append("clipPath")
        .attr("id", "clip" + i)
        .append("rect")
          .attr("width", axW)
          .attr("height", axH);

      const line = d3.line()
        .x(d => xScale(toDate(d[0])))
        .y(d => yScale(d[1]));

      const plot = g.append("g").attr("clip-path", `url(#clip${i})`);
      [[p.mid, "red"], [p.high, "black"], [p.low, "black"], [p.ace, "blue"]].forEach(([data, color]) => {
        plot.append("path")
          .datum(data)
          .attr("class", "series")
          .attr("stroke", color)
          .attr("d", line);
      });

      // x axis
      const xAxis = d3.axisBottom(xScale)
        .tickValues(xTickDates.map(s => new Date(s + "T00:00:00Z")))
        .tickFormat(d3.utcFormat("%Y-%m-%d"))
        .tickSize(tickLen)
        .tickPadding(tickPad);
      const gx = g.append("g")
        .attr("class", "axis")
        .attr("transform", `translate(0, ${axH})`)
        .call(xAxis);
      gx.select(".domain").remove();
      gx.selectAll("text")
        .style("font-size", xTickFont + "px")
        .style("font-family", "DejaVu Sans");

      // y axis
      const yAxis = d3.axisLeft(yScale)
        .tickValues(p.ticks)
        .tickFormat(p.fmt)
        .tickSize(tickLen)
        .tickPadding(tickPad);
      const gy = g.append("g")
        .attr("class", "axis")
        .call(yAxis);
      gy.select(".domain").remove();
      gy.selectAll("text")
        .style("font-size", yTickFont + "px")
        .style("font-family", "DejaVu Sans");

      // axis frame on top of the lines
      g.append("rect")
        .attr("class", "frame")
        .attr("width", axW)
        .attr("height", axH);

      // y label sits left of the widest tick label
      let maxW = 0;
      gy.selectAll("text").each(function () { maxW = Math.max(maxW, this.getComputedTextLength()); });
      const labelX = -(tickLen + tickPad + maxW + 5.56 + 0.236 * labelFont);
      g.append("text")
        .attr("transform", `translate(${labelX}, ${axH / 2}) rotate(-90)`)
        .attr("text-anchor", "middle")
        .style("font-size", labelFont + "px")
        .text(p.label);

      // legend
      const lg = g.append("g");
      const box = lg.append("rect")
        .attr("rx", 2.8)
        .attr("fill", "#fff")
        .attr("fill-opacity", 0.8)
        .attr("stroke", "#cccccc")
        .attr("stroke-width", 1);
      const pad = 0.4 * legendFont, handle = 2 * legendFont, gap = 0.8 * legendFont;
      let textW = 0;
      [[p.legend, "red"], ["Ace", "blue"]].forEach(([name, color], k) => {
        const cy = 12.3 + k * 20.4;
        lg.append("line")
          .attr("x1", pad).attr("x2", pad + handle)
          .attr("y1", cy).attr("y2", cy)
          .attr("stroke", color)
          .attr("stroke-width", 2.08);
        const t = lg.append("text")
          .attr("x", pad + handle + gap)
          .attr("y", cy)
          .attr("dy", "0.36em")
          .style("font-size", legendFont + "px")
          .text(name);
        textW = Math.max(textW, t.node().getComputedTextLength());
      });
      const boxW = pad + handle + gap + textW + pad;
      box.attr("width", boxW).attr("height", 45.5);
      const lx = p.legendLeft ? 6.9 : axW - 6.9 - boxW;
      lg.attr("transform", `translate(${lx}, 6.9)`);
    });
  </script>
</body>
</html>
